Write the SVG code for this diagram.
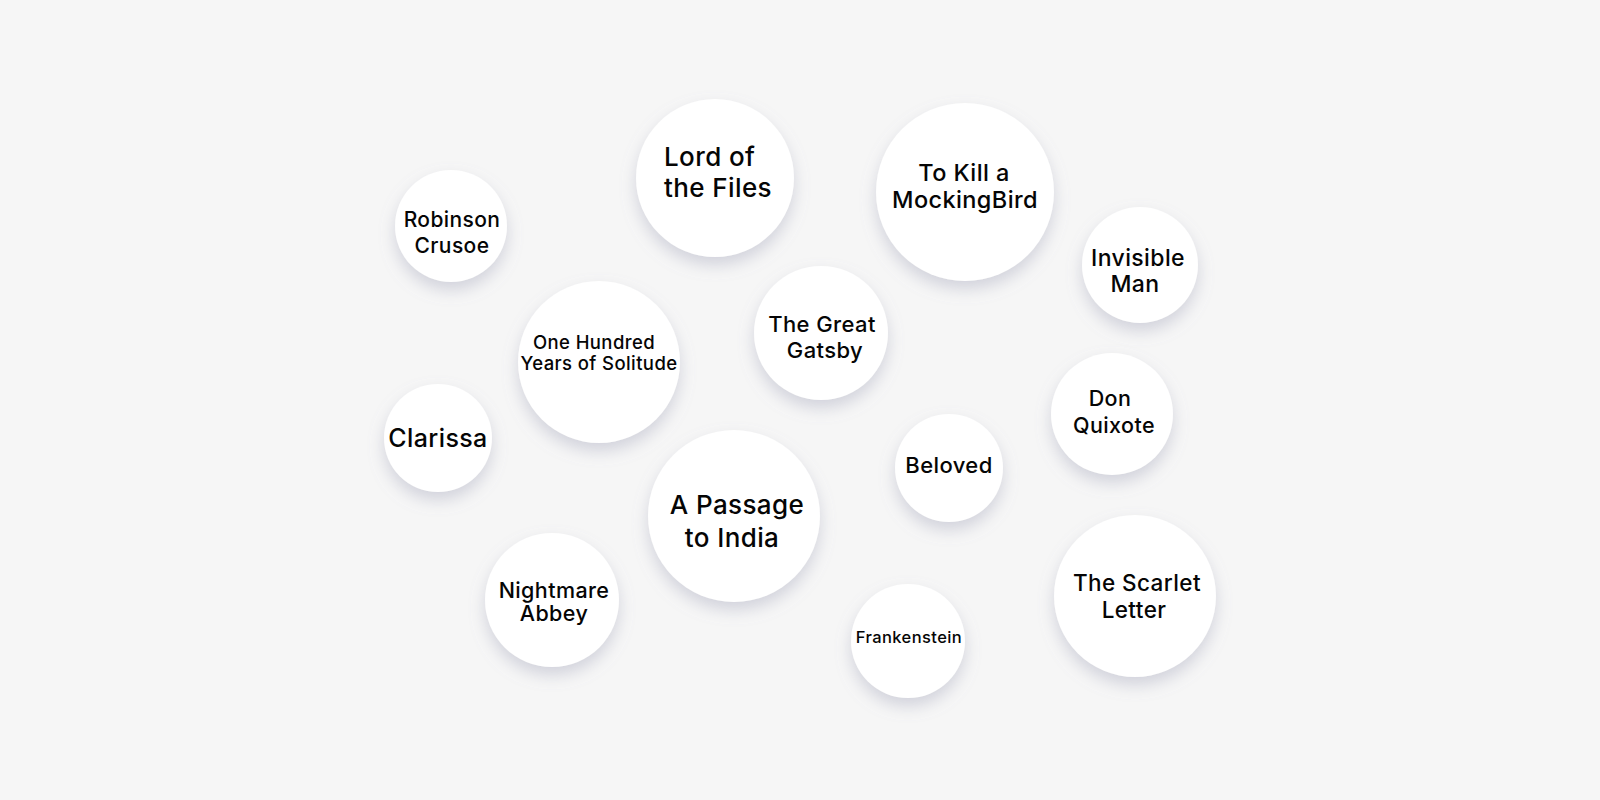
<svg xmlns="http://www.w3.org/2000/svg" width="1600" height="800" viewBox="0 0 1600 800">
  <defs>
    <filter id="sh" x="-30%" y="-30%" width="160%" height="170%">
      <feDropShadow dx="0" dy="8" stdDeviation="8" flood-color="#8e90aa" flood-opacity="0.35"/>
    </filter>
  </defs>
  <style>
    .bubble { fill: #ffffff; filter: url(#sh); }
    .t { font-family: Inter, "Noto Sans", "Liberation Sans", sans-serif; font-weight: 500; fill: #050505; text-anchor: middle; letter-spacing: 0.4px; }
    .l { text-anchor: start; }
  </style>
  <rect width="1600" height="800" fill="#f6f6f6"/>

  <g id="connectors"></g>

  <g id="robinson-crusoe">
    <circle class="bubble" cx="451" cy="226" r="56"/>
    <text class="t" x="452" y="227" font-size="21">Robinson</text>
    <text class="t" x="452" y="253" font-size="21">Crusoe</text>
  </g>

  <g id="lord-of-the-files">
    <circle class="bubble" cx="715" cy="178" r="79"/>
    <text class="t l" x="664" y="166" font-size="26">Lord of</text>
    <text class="t l" x="664" y="197" font-size="26">the Files</text>
  </g>

  <g id="to-kill-a-mockingbird">
    <circle class="bubble" cx="965" cy="192" r="89"/>
    <text class="t" x="964" y="181" font-size="23.5">To Kill a</text>
    <text class="t" x="965" y="208" font-size="23.5">MockingBird</text>
  </g>

  <g id="invisible-man">
    <circle class="bubble" cx="1140" cy="265" r="58"/>
    <text class="t" x="1138" y="266" font-size="23">Invisible</text>
    <text class="t" x="1135" y="292" font-size="23">Man</text>
  </g>

  <g id="one-hundred-years">
    <circle class="bubble" cx="599" cy="362" r="81"/>
    <text class="t" x="594" y="349" font-size="18.5">One Hundred</text>
    <text class="t" x="599" y="370" font-size="18.5">Years of Solitude</text>
  </g>

  <g id="the-great-gatsby">
    <circle class="bubble" cx="821" cy="333" r="67"/>
    <text class="t" x="822" y="332" font-size="22">The Great</text>
    <text class="t" x="825" y="358" font-size="22">Gatsby</text>
  </g>

  <g id="clarissa">
    <circle class="bubble" cx="438" cy="438" r="54"/>
    <text class="t" x="438" y="447" font-size="25">Clarissa</text>
  </g>

  <g id="don-quixote">
    <circle class="bubble" cx="1112" cy="414" r="61"/>
    <text class="t" x="1110" y="406" font-size="21.5">Don</text>
    <text class="t" x="1114" y="433" font-size="21.5">Quixote</text>
  </g>

  <g id="beloved">
    <circle class="bubble" cx="949" cy="468" r="54"/>
    <text class="t" x="949" y="473" font-size="22">Beloved</text>
  </g>

  <g id="a-passage-to-india">
    <circle class="bubble" cx="734" cy="516" r="86"/>
    <text class="t" x="737" y="514" font-size="26">A Passage</text>
    <text class="t" x="732" y="547" font-size="26">to India</text>
  </g>

  <g id="nightmare-abbey">
    <circle class="bubble" cx="552" cy="600" r="67"/>
    <text class="t" x="554" y="598" font-size="21.5">Nightmare</text>
    <text class="t" x="554" y="621" font-size="21.5">Abbey</text>
  </g>

  <g id="frankenstein">
    <circle class="bubble" cx="908" cy="641" r="57"/>
    <text class="t" x="909" y="643" font-size="16.5">Frankenstein</text>
  </g>

  <g id="the-scarlet-letter">
    <circle class="bubble" cx="1135" cy="596" r="81"/>
    <text class="t" x="1137" y="591" font-size="22.5">The Scarlet</text>
    <text class="t" x="1134" y="618" font-size="22.5">Letter</text>
  </g>
</svg>
